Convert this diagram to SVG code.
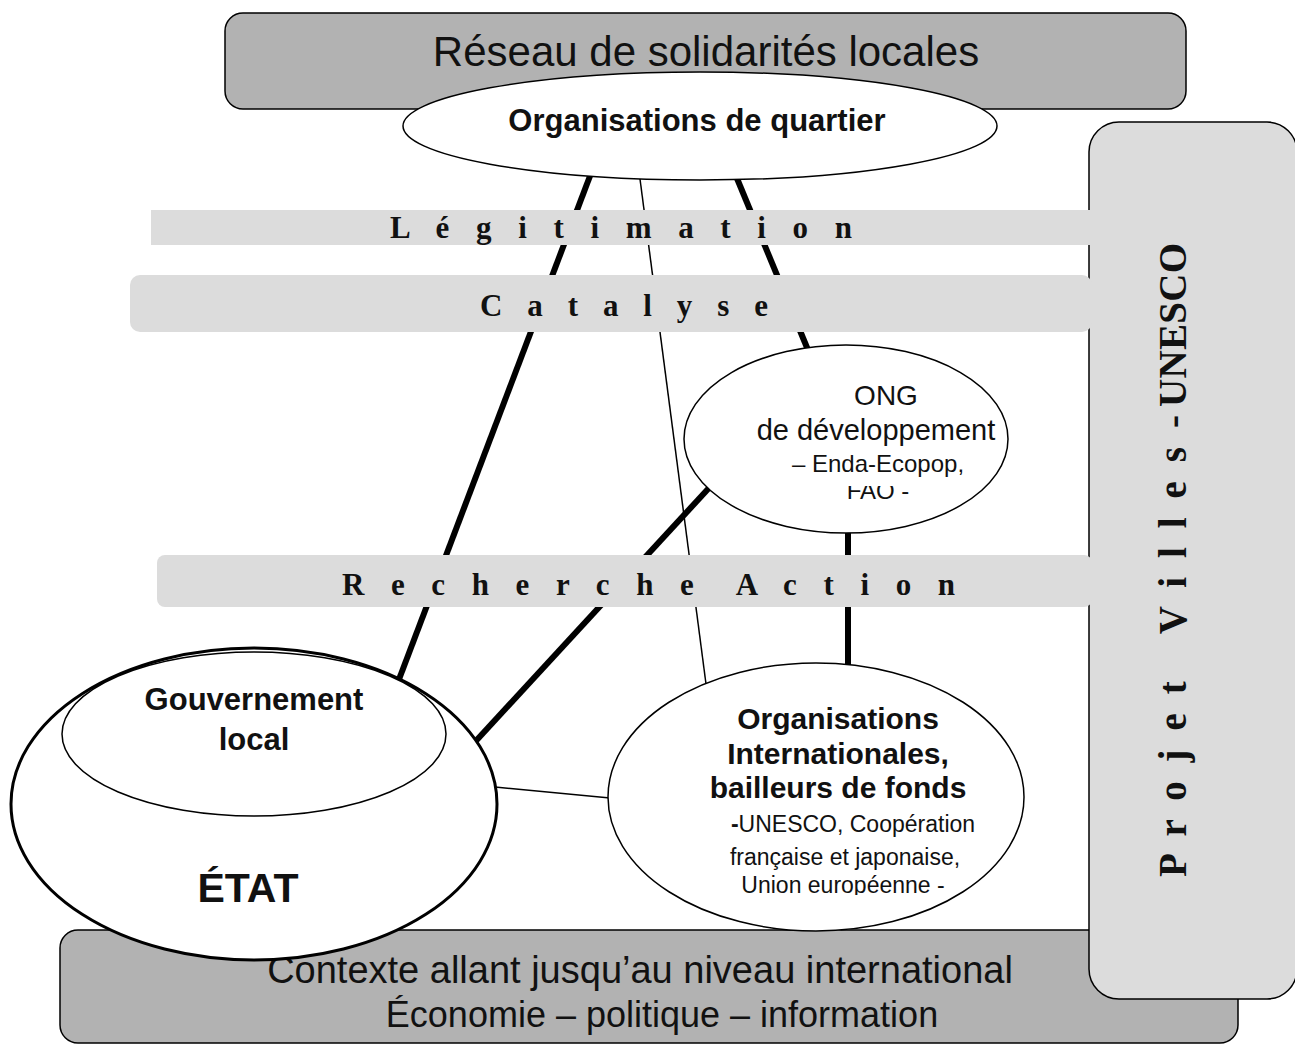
<svg xmlns="http://www.w3.org/2000/svg" width="1295" height="1045" viewBox="0 0 1295 1045">
<style>
.box{fill:#b2b2b2;stroke:#000;stroke-width:1.5}
.panel{fill:#dcdcdc;stroke:#000;stroke-width:1.5}
.band{fill:#dcdcdc;stroke:none}
.node{fill:#fff;stroke:#000;stroke-width:1.5}
.thick{stroke:#000;stroke-width:6;fill:none}
.thin{stroke:#000;stroke-width:1.5;fill:none}
.sans{font-family:"Liberation Sans",Arial,sans-serif;fill:#111}
.b{font-weight:bold}
.serif{font-family:"Liberation Serif","Times New Roman",serif;font-weight:bold;fill:#111}
</style>
<defs>
<clipPath id="clipONG"><rect x="700" y="486" width="300" height="13"/></clipPath>
<clipPath id="clipOI"><rect x="620" y="860" width="400" height="35"/></clipPath>
</defs>

<g id="reseau">
<rect class="box" x="225" y="13" width="961" height="96" rx="18"/>
<text class="sans" x="706" y="66" font-size="42" text-anchor="middle">Réseau de solidarités locales</text>
</g>

<g id="contexte">
<rect class="box" x="60" y="930" width="1178" height="113" rx="18"/>
<text class="sans" x="640" y="983" font-size="38" text-anchor="middle">Contexte allant jusqu’au niveau international</text>
<text class="sans" x="662" y="1027" font-size="36" text-anchor="middle">Économie – politique – information</text>
</g>

<g id="projet">
<rect class="panel" x="1089" y="122" width="208" height="877" rx="30"/>
<g transform="translate(1186,877) rotate(-90)">
<text class="serif" x="0" y="0" font-size="39" textLength="462" lengthAdjust="spacing">P r o j e t&#160;&#160; V i l l e s -</text>
<text class="serif" x="470" y="0" font-size="39" textLength="164" lengthAdjust="spacing">UNESCO</text>
</g>
</g>

<g id="connectors">
<line class="thick" x1="590" y1="176" x2="398" y2="682"/>
<line class="thick" x1="736" y1="176" x2="808" y2="350"/>
<line class="thin" x1="640" y1="179" x2="706" y2="684"/>
<line class="thick" x1="720" y1="476" x2="474" y2="743"/>
<line class="thick" x1="848" y1="530" x2="848" y2="665"/>
<line class="thin" x1="495" y1="787" x2="610" y2="798"/>
</g>

<g id="legitimation">
<rect class="band" x="151" y="210" width="941" height="35"/>
<text class="serif" x="390" y="238" font-size="31" textLength="462" lengthAdjust="spacing">L é g i t i m a t i o n</text>
</g>
<g id="catalyse">
<rect class="band" x="130" y="275" width="962" height="57" rx="10"/>
<text class="serif" x="480" y="316" font-size="31" textLength="288" lengthAdjust="spacing">C a t a l y s e</text>
</g>
<g id="recherche-action">
<rect class="band" x="157" y="555" width="935" height="52" rx="8"/>
<text class="serif" x="342" y="595" font-size="31" textLength="613" lengthAdjust="spacing">R e c h e r c h e&#160; A c t i o n</text>
</g>

<g id="org-quartier">
<ellipse class="node" cx="700" cy="126" rx="297" ry="54"/>
<text class="sans b" x="697" y="131" font-size="31" text-anchor="middle">Organisations de quartier</text>
</g>

<g id="ong">
<ellipse class="node" cx="846" cy="439" rx="162" ry="94"/>
<text class="sans" x="886" y="405" font-size="28" text-anchor="middle">ONG</text>
<text class="sans" x="876" y="440" font-size="29" text-anchor="middle">de développement</text>
<text class="sans" x="878" y="472" font-size="24" text-anchor="middle">– Enda-Ecopop,</text>
<text class="sans" x="878" y="499" font-size="24" text-anchor="middle" clip-path="url(#clipONG)">FAQ -</text>
</g>

<g id="org-internationales">
<ellipse class="node" cx="816" cy="797" rx="208" ry="134"/>
<text class="sans b" x="838" y="729" font-size="30" text-anchor="middle">Organisations</text>
<text class="sans b" x="838" y="764" font-size="30" text-anchor="middle">Internationales,</text>
<text class="sans b" x="838" y="798" font-size="30" text-anchor="middle">bailleurs de fonds</text>
<text class="sans" x="853" y="832" font-size="23" text-anchor="middle"><tspan font-weight="bold">-</tspan>UNESCO, Coopération</text>
<text class="sans" x="845" y="865" font-size="23" text-anchor="middle">française et japonaise,</text>
<text class="sans" x="843" y="893" font-size="23" text-anchor="middle" clip-path="url(#clipOI)">Union européenne -</text>
</g>

<g id="etat">
<ellipse cx="254" cy="804" rx="243" ry="156" fill="#fff" stroke="#000" stroke-width="3"/>
<text class="sans b" x="248" y="902" font-size="41" text-anchor="middle">ÉTAT</text>
</g>

<g id="gouvernement-local">
<ellipse class="node" cx="254" cy="734" rx="192" ry="82"/>
<text class="sans b" x="254" y="710" font-size="31" text-anchor="middle">Gouvernement</text>
<text class="sans b" x="254" y="750" font-size="31" text-anchor="middle">local</text>
</g>
</svg>
